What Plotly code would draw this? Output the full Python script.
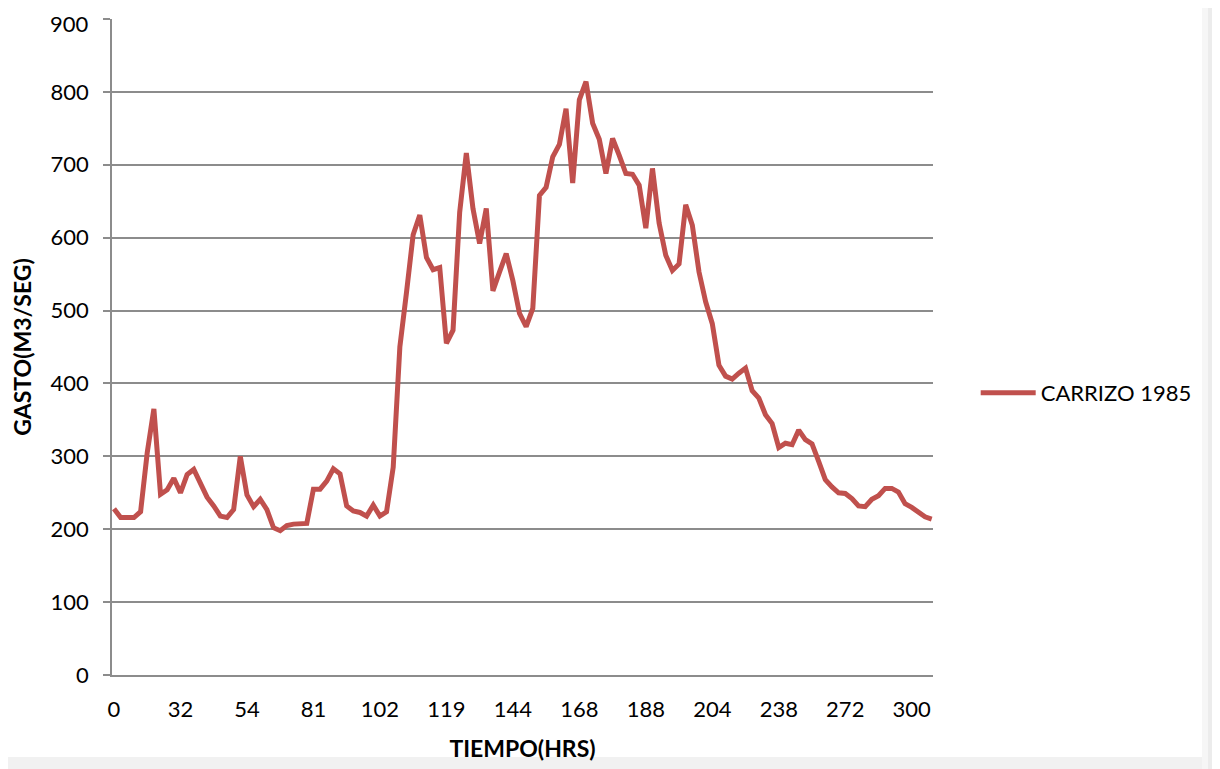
import plotly.graph_objects as go

# Category labels shown on the time axis (every 10th reading)
TICK_POSITIONS = [0, 10, 20, 30, 40, 50, 60, 70, 80, 90, 100, 110, 120]
TICK_LABELS = ["0", "32", "54", "81", "102", "119", "144", "168", "188", "204", "238", "272", "300"]

# Value-axis ticks
Y_TICKS = [0, 100, 200, 300, 400, 500, 600, 700, 800, 900]

# Discharge readings (m3/s), one per category
GASTO = [
    228, 216, 216, 216, 224, 305, 365, 248, 254, 270,
    250, 275, 282, 264, 244, 232, 218, 216, 227, 300,
    247, 231, 241, 227, 202, 198, 205, 207, 207, 208,
    255, 255, 266, 283, 276, 232, 225, 223, 218, 233,
    218, 224, 285, 450, 525, 604, 631, 573, 556, 559,
    455, 473, 635, 716, 640, 592, 640, 527, 553, 578,
    541, 496, 478, 503, 658, 669, 711, 728, 777, 675,
    789, 814, 757, 735, 688, 736, 713, 688, 687, 672,
    613, 695, 620, 576, 555, 564, 645, 617, 553, 512,
    482, 425, 410, 406, 414, 421, 390, 380, 357, 345,
    312, 318, 316, 336, 323, 317, 293, 268, 258, 250,
    249, 242, 232, 231, 241, 246, 256, 256, 251, 235,
    230, 224, 217, 214,
]
SERIES_NAME = "CARRIZO 1985"
INDEX = list(range(len(GASTO)))

FONT = "Lato"
GRID = "#8c8c8c"

# Page body adds an 8px offset; figure is sized to fill the rest of the window.
W, H = 1212, 761
L, T, R, B = 104, 11, 287, 94
PW, PH = W - L - R, H - T - B


def px_to_paper_x(px):
    return (px - 8 - L) / PW


def px_to_paper_y(py):
    return (H - B - (py - 8)) / PH


fig = go.Figure()
fig.add_trace(go.Scatter(
    x=INDEX, y=GASTO, mode="lines", name=SERIES_NAME,
    line=dict(color="#C0504D", width=5, shape="linear"),
    cliponaxis=False,
))

# Subtle page-shadow edges (right and bottom)
shadow_strips = [
    (1202, 1208, "#f6f6f6"),
    (1208, 1213, "#ececec"),
    (1213, 1217, "#e0e0e0"),
    (1217, 1221, "#d4d4d4"),
]
for x0, x1, col in shadow_strips:
    fig.add_shape(type="rect", xref="paper", yref="paper", layer="below",
                  x0=px_to_paper_x(x0), x1=px_to_paper_x(x1),
                  y0=px_to_paper_y(770), y1=px_to_paper_y(7),
                  fillcolor=col, line=dict(width=0))
fig.add_shape(type="rect", xref="paper", yref="paper", layer="below",
              x0=px_to_paper_x(7), x1=px_to_paper_x(1202),
              y0=px_to_paper_y(770), y1=px_to_paper_y(757),
              fillcolor="#f1f1f1", line=dict(width=0))

# Top value label kept inside the figure edge
y_ticktext = [str(v) for v in Y_TICKS]
top_label = y_ticktext[-1]
y_ticktext[-1] = ""
fig.add_annotation(
    text=top_label, xref="paper", yref="paper",
    x=px_to_paper_x(91), y=px_to_paper_y(8),
    xanchor="right", yanchor="top", showarrow=False,
    font=dict(family=FONT, size=22, color="#000000"),
)

fig.update_layout(
    width=W, height=H,
    margin=dict(l=L, r=R, t=T, b=B, autoexpand=False),
    paper_bgcolor="white", plot_bgcolor="white",
    font=dict(family=FONT, size=22, color="#000000"),
    showlegend=True,
    legend=dict(
        x=1.052, y=0.43, xanchor="left", yanchor="middle",
        font=dict(family=FONT, size=22, color="#000000"),
        itemwidth=55, bgcolor="rgba(0,0,0,0)", borderwidth=0,
    ),
    xaxis=dict(
        range=[-0.3, 123.2], automargin=False,
        tickmode="array", tickvals=TICK_POSITIONS, ticktext=TICK_LABELS,
        showgrid=False, zeroline=False,
        showline=True, linecolor=GRID, linewidth=1.5,
        ticks="", ticklabelstandoff=14,
        tickfont=dict(family=FONT, size=22),
        title=dict(text="<b>TIEMPO(HRS)</b>", font=dict(family=FONT, size=23), standoff=20),
    ),
    yaxis=dict(
        range=[0, 900], automargin=False,
        tickmode="array", tickvals=Y_TICKS, ticktext=y_ticktext,
        showgrid=True, gridcolor=GRID, gridwidth=1.5,
        zeroline=False,
        showline=True, linecolor=GRID, linewidth=1.5,
        ticks="outside", ticklen=7, tickcolor=GRID, tickwidth=1.5,
        ticklabelstandoff=10, ticklabeloverflow="allow",
        tickfont=dict(family=FONT, size=22),
        title=dict(text="<b>GASTO(M3/SEG)</b>", font=dict(family=FONT, size=23), standoff=14),
    ),
)

fig.write_html("out.html")
